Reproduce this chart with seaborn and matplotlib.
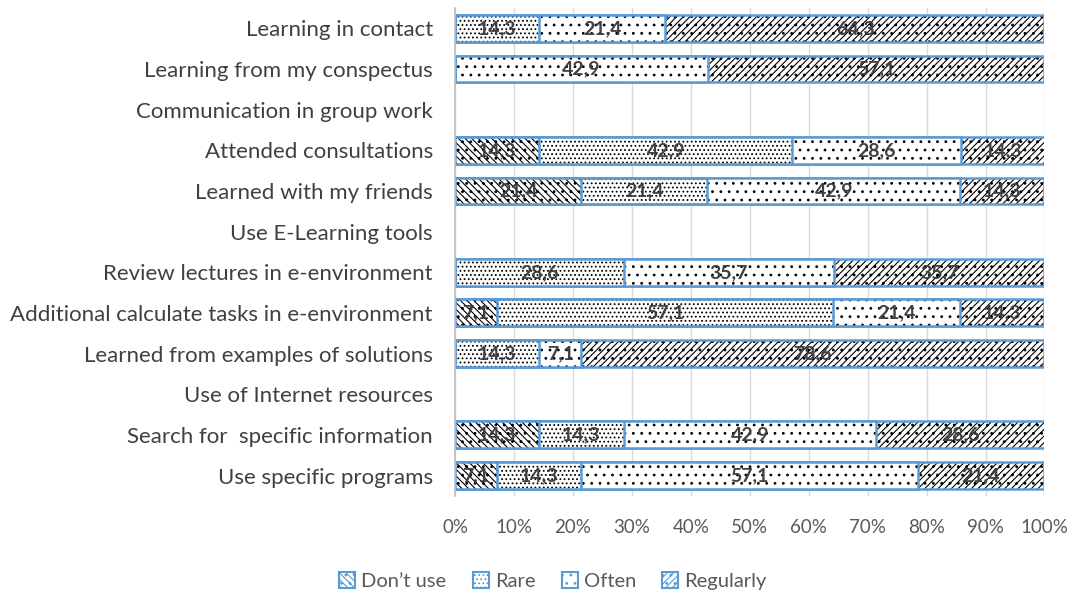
import numpy as np
import pandas as pd
import matplotlib
matplotlib.use("Agg")
import matplotlib.pyplot as plt
import seaborn as sns
from matplotlib.patches import Patch

categories = [
    "Learning in contact",
    "Learning from my conspectus",
    "Communication in group work",
    "Attended consultations",
    "Learned with my friends",
    "Use E-Learning tools",
    "Review lectures in e-environment",
    "Additional calculate tasks in e-environment",
    "Learned from examples of solutions",
    "Use of Internet resources",
    "Search for  specific information",
    "Use specific programs",
]
series = ["Don\u2019t use", "Rare", "Often", "Regularly"]
dont_use  = [0,    0,    np.nan, 14.3, 21.4, np.nan, 0,    7.1,  0,    np.nan, 14.3, 7.1]
rare      = [14.3, 0,    np.nan, 42.9, 21.4, np.nan, 28.6, 57.1, 14.3, np.nan, 14.3, 14.3]
often     = [21.4, 42.9, np.nan, 28.6, 42.9, np.nan, 35.7, 21.4, 7.1,  np.nan, 42.9, 57.1]
regularly = [64.3, 57.1, np.nan, 14.3, 14.3, np.nan, 35.7, 14.3, 78.6, np.nan, 28.6, 21.4]

hatches = ["\\\\\\\\\\..", "....", "..", "/////.."]
edge = "#5B9BD5"
txt = "#404040"

sns.set_theme(style="white")
plt.rcParams["font.family"] = ["Lato", "DejaVu Sans"]
plt.rcParams["hatch.linewidth"] = 0.8

fig = plt.figure(figsize=(10.74, 5.96), dpi=100)
ax = fig.add_axes([0.4237, 0.168, 0.5488, 0.8186])

vals = np.array([dont_use, rare, often, regularly], dtype=float)
cum = np.nancumsum(vals, axis=0)
cum[:, np.isnan(vals[0])] = np.nan

# draw from the largest cumulative to the smallest so each overlays the next
for i in range(3, -1, -1):
    df = pd.DataFrame({"cat": categories, "v": cum[i]})
    n_before = len(ax.patches)
    sns.barplot(data=df, y="cat", x="v", order=categories, orient="h",
                color="white", edgecolor=edge, linewidth=1.8, width=0.66,
                ax=ax, errorbar=None)
    for p in ax.patches[n_before:]:
        p.set_facecolor("white")
        p.set_hatch(hatches[i])
        p.set_edgecolor(edge)

for p in ax.patches:
    p._hatch_color = matplotlib.colors.to_rgba("black")

# labels
for j, c in enumerate(categories):
    start = 0.0
    for i in range(4):
        v = vals[i, j]
        if np.isnan(v):
            continue
        if v > 0:
            ax.text(start + v / 2, j, f"{v:.1f}".replace(".", ","),
                    ha="center", va="center", fontsize=14, fontweight="bold",
                    color=txt)
        start += v

ax.set_xlim(0, 100)
ax.set_ylim(len(categories) - 0.5, -0.5)
ax.set_xticks(np.arange(0, 101, 10))
ax.set_xticklabels([f"{t}%" for t in range(0, 101, 10)], fontsize=13.5, color="#595959")
ax.tick_params(axis="y", labelsize=16, labelcolor=txt, length=0, pad=16)
ax.tick_params(axis="x", length=0, pad=17)
ax.set_xlabel("")
ax.set_ylabel("")
ax.grid(axis="x", color="#D9D9D9", linewidth=1)
ax.set_axisbelow(True)
for s in ["top", "right", "bottom"]:
    ax.spines[s].set_visible(False)
ax.spines["left"].set_color("#BFBFBF")
ax.spines["left"].set_linewidth(1.2)

handles = [Patch(facecolor="white", edgecolor=edge, hatch=h, linewidth=1.5) for h in hatches]
leg = fig.legend(handles, series, loc="center", bbox_to_anchor=(0.515, 0.025), ncol=4,
                 frameon=False, fontsize=14.5, handlelength=0.8, handleheight=0.8,
                 handletextpad=0.3, columnspacing=1.3)
for t in leg.get_texts():
    t.set_color("#595959")

fig.savefig("out.png", dpi=100)
